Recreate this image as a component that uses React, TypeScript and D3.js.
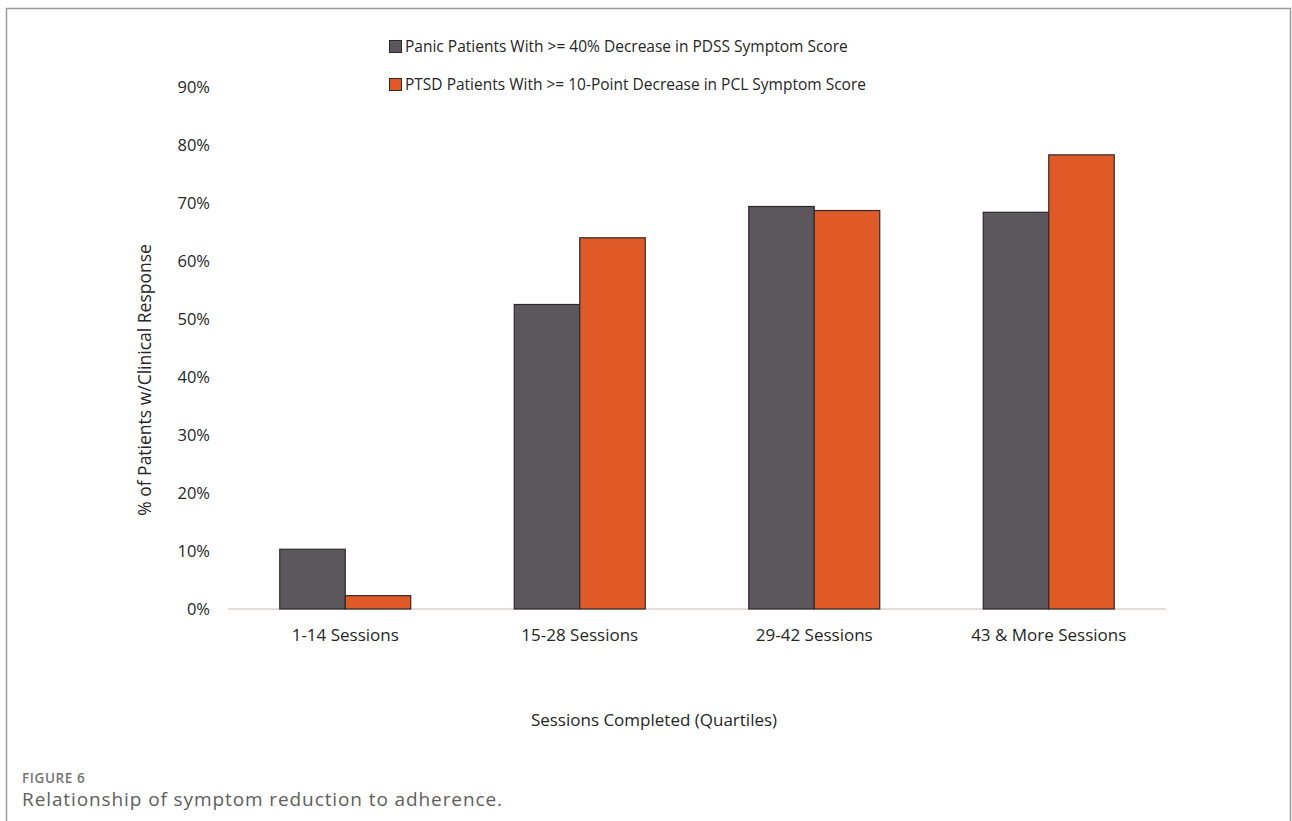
import React, { useEffect, useRef } from "react";
import * as d3 from "d3";

const categories = ["1-14 Sessions", "15-28 Sessions", "29-42 Sessions", "43 & More Sessions"];
const seriesNames = [
  "Panic Patients With >= 40% Decrease in PDSS Symptom Score",
  "PTSD Patients With >= 10-Point Decrease in PCL Symptom Score",
];
const panicValues = [10.3, 52.5, 69.4, 68.4];
const ptsdValues = [2.3, 64.0, 68.7, 78.3];
const yTicks = [0, 10, 20, 30, 40, 50, 60, 70, 80, 90];
const seriesColors = ["#5b575d", "#e05a27"];

const W = 1292;
const H = 821;
const FONT = "'Open Sans', 'Noto Sans', sans-serif";

export default function App() {
  const ref = useRef<SVGSVGElement | null>(null);

  useEffect(() => {
    const svg = d3.select(ref.current);
    svg.selectAll("*").remove();

    // outer frame
    svg.append("rect")
      .attr("x", 6.5).attr("y", 8.5)
      .attr("width", 1284).attr("height", 830)
      .attr("fill", "#fff").attr("stroke", "#9a9a9a").attr("stroke-width", 1.5);

    const plotLeft = 228, plotRight = 1166, plotTop = 87, plotBottom = 609;

    const x0 = d3.scaleBand<string>().domain(categories).range([plotLeft, plotRight]).paddingInner(0).paddingOuter(0);
    const x1 = d3.scaleBand<number>().domain([0, 1]).range([0, 131]);
    const y = d3.scaleLinear().domain([0, 90]).range([plotBottom, plotTop]);

    const g = svg.append("g");

    // baseline
    g.append("line")
      .attr("x1", plotLeft).attr("x2", plotRight)
      .attr("y1", y(0)).attr("y2", y(0))
      .attr("stroke", "#d6d2cf").attr("stroke-width", 1.5);

    // y tick labels
    g.selectAll("text.ytick").data(yTicks).join("text")
      .attr("class", "ytick")
      .attr("x", 210).attr("y", (d) => y(d))
      .attr("dy", "0.35em")
      .attr("text-anchor", "end")
      .attr("font-family", FONT).attr("font-size", 16.5).attr("fill", "#262626")
      .text((d) => `${d}%`);

    // bars
    const series = [panicValues, ptsdValues];
    categories.forEach((cat, ci) => {
      const cx = (x0(cat) as number) + x0.bandwidth() / 2 - 65.5;
      series.forEach((vals, si) => {
        g.append("rect")
          .attr("x", cx + (x1(si) as number))
          .attr("y", y(vals[ci]))
          .attr("width", x1.bandwidth())
          .attr("height", y(0) - y(vals[ci]))
          .attr("fill", seriesColors[si])
          .attr("stroke", "#2e2a2c").attr("stroke-width", 1.2);
      });
    });

    // category labels
    g.selectAll("text.xcat").data(categories).join("text")
      .attr("class", "xcat")
      .attr("x", (d) => (x0(d) as number) + x0.bandwidth() / 2)
      .attr("y", 635).attr("dy", "0.35em")
      .attr("text-anchor", "middle")
      .attr("font-family", FONT).attr("font-size", 17).attr("fill", "#262626")
      .text((d) => d);

    // axis titles
    g.append("text")
      .attr("x", 654).attr("y", 720).attr("dy", "0.35em")
      .attr("text-anchor", "middle")
      .attr("font-family", FONT).attr("font-size", 17).attr("fill", "#262626")
      .text("Sessions Completed (Quartiles)");
    g.append("text")
      .attr("transform", "translate(145,380) rotate(-90)")
      .attr("dy", "0.35em")
      .attr("text-anchor", "middle")
      .attr("font-family", FONT).attr("font-size", 17.5).attr("fill", "#262626")
      .text("% of Patients w/Clinical Response");

    // legend
    const legendY = [47, 85];
    seriesNames.forEach((name, i) => {
      g.append("rect")
        .attr("x", 389.5).attr("y", legendY[i] - 6.5)
        .attr("width", 12).attr("height", 12)
        .attr("fill", seriesColors[i]).attr("stroke", "#2e2a2c").attr("stroke-width", 1);
      g.append("text")
        .attr("x", 405).attr("y", legendY[i]).attr("dy", "0.35em")
        .attr("font-family", FONT).attr("font-size", 15.5).attr("fill", "#262626")
        .text(name);
    });

    // figure caption
    svg.append("text")
      .attr("x", 22).attr("y", 783)
      .attr("font-family", FONT).attr("font-size", 13.5).attr("font-weight", 600)
      .attr("letter-spacing", 0.6)
      .attr("fill", "#737373")
      .text("FIGURE 6");
    svg.append("text")
      .attr("x", 22).attr("y", 806)
      .attr("font-family", FONT).attr("font-size", 19).attr("fill", "#5e5e5e")
      .attr("letter-spacing", 0.9)
      .text("Relationship of symptom reduction to adherence.");
  }, []);

  return (
    <svg
      ref={ref}
      width={W}
      height={H}
      style={{ position: "absolute", left: 0, top: 0, background: "#fff" }}
    />
  );
}
